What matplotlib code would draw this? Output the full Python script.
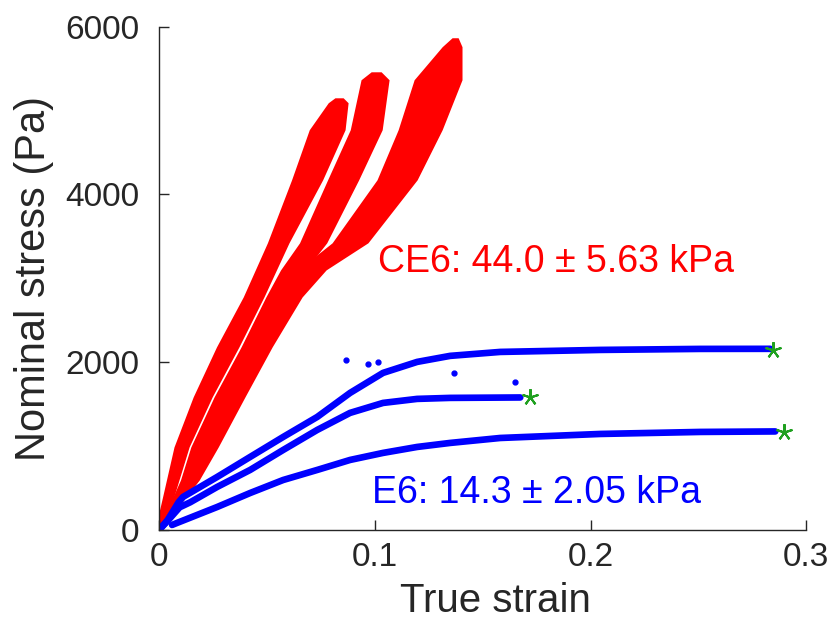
import matplotlib
matplotlib.use('Agg')
import matplotlib.pyplot as plt
import numpy as np

plt.rcParams['font.family'] = ['Liberation Sans', 'DejaVu Sans']

# CE6 samples (red clouds): strain at the middle of each band, stress (Pa),
# and the half spread of the cloud in strain
ce6_1_x = [0.0, 0.0005, 0.0042, 0.0104, 0.0202, 0.0318, 0.0438, 0.0552, 0.0686, 0.0779, 0.0830, 0.0834]
ce6_1_y = [0, 119, 394, 990, 1587, 2183, 2779, 3424, 4175, 4772, 5094, 5153]
ce6_1_hw = [0.0005, 0.0014, 0.0026, 0.0035, 0.0044, 0.0052, 0.0048, 0.0050, 0.0072, 0.0083, 0.0046, 0.0019]

ce6_2_x = [0.0, 0.0125, 0.0185, 0.0297, 0.0422, 0.0542, 0.0621, 0.0714, 0.0853, 0.0960, 0.1001, 0.1006]
ce6_2_y = [0, 596, 990, 1587, 2183, 2779, 3101, 3424, 4175, 4772, 5368, 5463]
ce6_2_hw = [0.0005, 0.0026, 0.0038, 0.0042, 0.0042, 0.0047, 0.0058, 0.0063, 0.0072, 0.0074, 0.0065, 0.0023]

ce6_3_x = [0.0, 0.0158, 0.0232, 0.0352, 0.0478, 0.0612, 0.0709, 0.0885, 0.1103, 0.1210, 0.1293, 0.1358, 0.1372]
ce6_3_y = [0, 596, 990, 1587, 2183, 2779, 3101, 3424, 4175, 4772, 5368, 5762, 5869]
ce6_3_hw = [0.0005, 0.0028, 0.0042, 0.0046, 0.0046, 0.0051, 0.0065, 0.0083, 0.0093, 0.0102, 0.0111, 0.0046, 0.0014]

# E6 samples (blue)
e6_1_x = [0.0, 0.004, 0.009, 0.0111, 0.0269, 0.0422, 0.0575, 0.0733, 0.0885, 0.1038,
          0.1196, 0.1349, 0.1581, 0.2045, 0.2508, 0.2833]
e6_1_y = [0, 120, 330, 394, 632, 871, 1109, 1348, 1634, 1873, 2004, 2076, 2123, 2147, 2159, 2160]
e6_2_x = [0.0, 0.004, 0.0095, 0.0144, 0.0269, 0.0422, 0.0575, 0.0733, 0.0885, 0.1038,
          0.1196, 0.1349, 0.1674]
e6_2_y = [0, 110, 270, 330, 513, 716, 954, 1193, 1396, 1515, 1563, 1575, 1580]
e6_3_x = [0.006, 0.0083, 0.0269, 0.0422, 0.0575, 0.0733, 0.0885, 0.1038, 0.1196, 0.1349,
          0.1581, 0.2045, 0.2508, 0.2856]
e6_3_y = [60, 84, 274, 441, 596, 716, 835, 919, 990, 1038, 1097, 1145, 1169, 1175]
e6_outlier_x = [0.0867, 0.0969, 0.1015, 0.1368, 0.165]
e6_outlier_y = [2028, 1980, 2004, 1873, 1765]

# failure points (green stars)
fail_x = [0.2847, 0.172, 0.2898]
fail_y = [2150, 1580, 1170]

fig = plt.figure(figsize=(8.33, 6.37), dpi=100)
ax = fig.add_axes([0.191, 0.168, 0.777, 0.79])

for xs, ys, hw in [(ce6_1_x, ce6_1_y, ce6_1_hw),
                   (ce6_2_x, ce6_2_y, ce6_2_hw),
                   (ce6_3_x, ce6_3_y, ce6_3_hw)]:
    xs = np.array(xs)
    hw = np.array(hw)
    ax.fill_betweenx(ys, xs - hw, xs + hw, color='red', lw=0)

for xs, ys in [(e6_1_x, e6_1_y), (e6_2_x, e6_2_y), (e6_3_x, e6_3_y)]:
    ax.plot(xs, ys, color='blue', lw=4.8, solid_capstyle='round', solid_joinstyle='round')
ax.plot(e6_outlier_x, e6_outlier_y, 'o', color='blue', ms=3.5)
ax.plot(fail_x, fail_y, marker=(5, 2, 0), ls='none', color='#1fa01f', ms=12, mew=1.5)

ax.text(0.1015, 3197, 'CE6: 44.0 \u00b1 5.63 kPa', color='red', fontsize=27, va='center')
ax.text(0.0988, 441, 'E6: 14.3 \u00b1 2.05 kPa', color='blue', fontsize=27, va='center')

ax.set_xlim(0, 0.3)
ax.set_ylim(0, 6000)
ax.set_xticks([0, 0.1, 0.2, 0.3])
ax.set_xticklabels(['0', '0.1', '0.2', '0.3'])
ax.set_yticks([0, 2000, 4000, 6000])
ax.spines['top'].set_visible(False)
ax.spines['right'].set_visible(False)
for s in ['left', 'bottom']:
    ax.spines[s].set_color('#262626')
    ax.spines[s].set_linewidth(1.0)
ax.tick_params(direction='in', length=7, width=1, colors='#262626', labelsize=24)
ax.tick_params(axis='x', pad=9)
ax.tick_params(axis='y', pad=14)
ax.set_xlabel('True strain', fontsize=29, color='#262626', labelpad=6, x=0.519)
ax.set_ylabel('Nominal stress (Pa)', fontsize=30, color='#262626', labelpad=8)

fig.savefig('out.png', dpi=100)
